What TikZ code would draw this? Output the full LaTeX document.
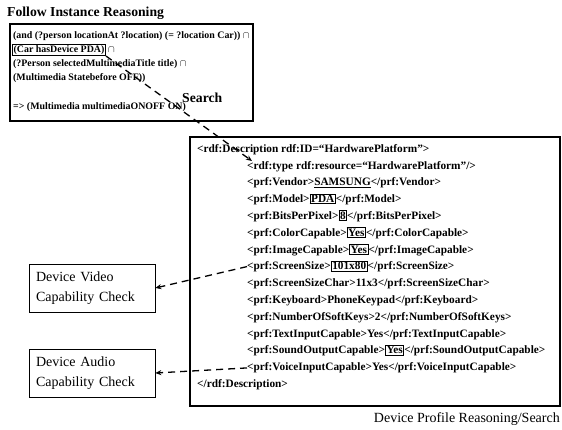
\documentclass[tikz,border=0pt]{standalone}
\usepackage{fontspec}
\setmainfont{Liberation Serif}
\usetikzlibrary{arrows.meta}

% framed value inside a profile line
\newcommand\valbox[1]{{\setlength\fboxsep{0.6pt}\setlength\fboxrule{0.9pt}\fbox{\vphantom{A}#1}}}

\begin{document}
\begin{tikzpicture}[x=1pt,y=-1pt,
  heading/.style={font=\fontsize{13.7}{16}\selectfont\bfseries, anchor=mid west, inner sep=0},
  rule/.style={font=\fontsize{9.9}{12}\selectfont\bfseries, anchor=mid west, inner sep=0},
  prof/.style={font=\fontsize{11.3}{13}\selectfont\bfseries, anchor=mid west, inner sep=0},
  panel/.style={draw, line width=1.7pt},
  checkbox/.style={draw, line width=0.6pt, minimum width=126pt, minimum height=48pt,
    inner sep=0, text width=112pt, align=left, font=\fontsize{14}{20}\selectfont},
  link/.style={line width=1.3pt, dash pattern=on 7pt off 5pt,
    -{Stealth[length=6pt,width=5pt]}},
  caption/.style={font=\fontsize{14}{16}\selectfont, inner sep=0}]
\useasboundingbox (0,0) rectangle (562,429);

% instance reasoning rule
\node[heading] (title) at (7,14) {Follow Instance Reasoning};
\draw[panel] (10,24) rectangle (253,121);
\node[rule] (r1) at (13,36) {(and (?person locationAt ?location) (= ?location Car)) \(\cap\)};
\node[rule, draw, line width=1.3pt, inner sep=1pt] (pdaq) at (12,50) {(Car hasDevice PDA)};
\node[rule, anchor=west] (r2) at ([xshift=2pt]pdaq.east) {\(\cap\)};
\node[rule] (r3) at (13,64) {(?Person selectedMultimediaTitle title) \(\cap\)};
\node[rule] (r4) at (13,78) {(Multimedia Statebefore OFF))};
\node[rule] (r5) at (13,107) {=> (Multimedia multimediaONOFF ON)};
\node[heading] (search) at (182,100) {Search};

% device profile
\draw[panel] (190,137) rectangle (560,406);
\node[prof] (l1)  at (197,150.0) {<rdf:Description rdf:ID=“HardwarePlatform”>};
\node[prof] (l2)  at (247,166.8) {<rdf:type rdf:resource=“HardwarePlatform”/>};
\node[prof] (l3)  at (247,183.6) {<prf:Vendor>\underline{SAMSUNG}</prf:Vendor>};
\node[prof] (l4)  at (247,200.4) {<prf:Model>\valbox{PDA}</prf:Model>};
\node[prof] (l5)  at (247,217.2) {<prf:BitsPerPixel>\valbox{8}</prf:BitsPerPixel>};
\node[prof] (l6)  at (247,234.0) {<prf:ColorCapable>\valbox{Yes}</prf:ColorCapable>};
\node[prof] (l7)  at (247,250.8) {<prf:ImageCapable>\valbox{Yes}</prf:ImageCapable>};
\node[prof] (l8)  at (247,267.6) {<prf:ScreenSize>\valbox{101x80}</prf:ScreenSize>};
\node[prof] (l9)  at (247,284.4) {<prf:ScreenSizeChar>11x3</prf:ScreenSizeChar>};
\node[prof] (l10) at (247,301.2) {<prf:Keyboard>PhoneKeypad</prf:Keyboard>};
\node[prof] (l11) at (247,318.0) {<prf:NumberOfSoftKeys>2</prf:NumberOfSoftKeys>};
\node[prof] (l12) at (247,334.8) {<prf:TextInputCapable>Yes</prf:TextInputCapable>};
\node[prof] (l13) at (247,351.6) {<prf:SoundOutputCapable>\valbox{Yes}</prf:SoundOutputCapable>};
\node[prof] (l14) at (247,368.4) {<prf:VoiceInputCapable>Yes</prf:VoiceInputCapable>};
\node[prof] (l15) at (197,385.2) {</rdf:Description>};
\node[caption, anchor=mid east] (foot) at (560,420) {Device Profile Reasoning/Search};

% capability checks
\node[checkbox] (video) at (92,288) {Device Video\\Capability Check};
\node[checkbox] (audio) at (92,373) {Device Audio\\Capability Check};

% connectors
\coordinate (hit) at (252,161);
\draw[link] (pdaq.south east) -- (hit);
\draw[link] (l8.west) -- (video.east);
\draw[link] (l14.west) -- (audio.east);
\end{tikzpicture}
\end{document}
